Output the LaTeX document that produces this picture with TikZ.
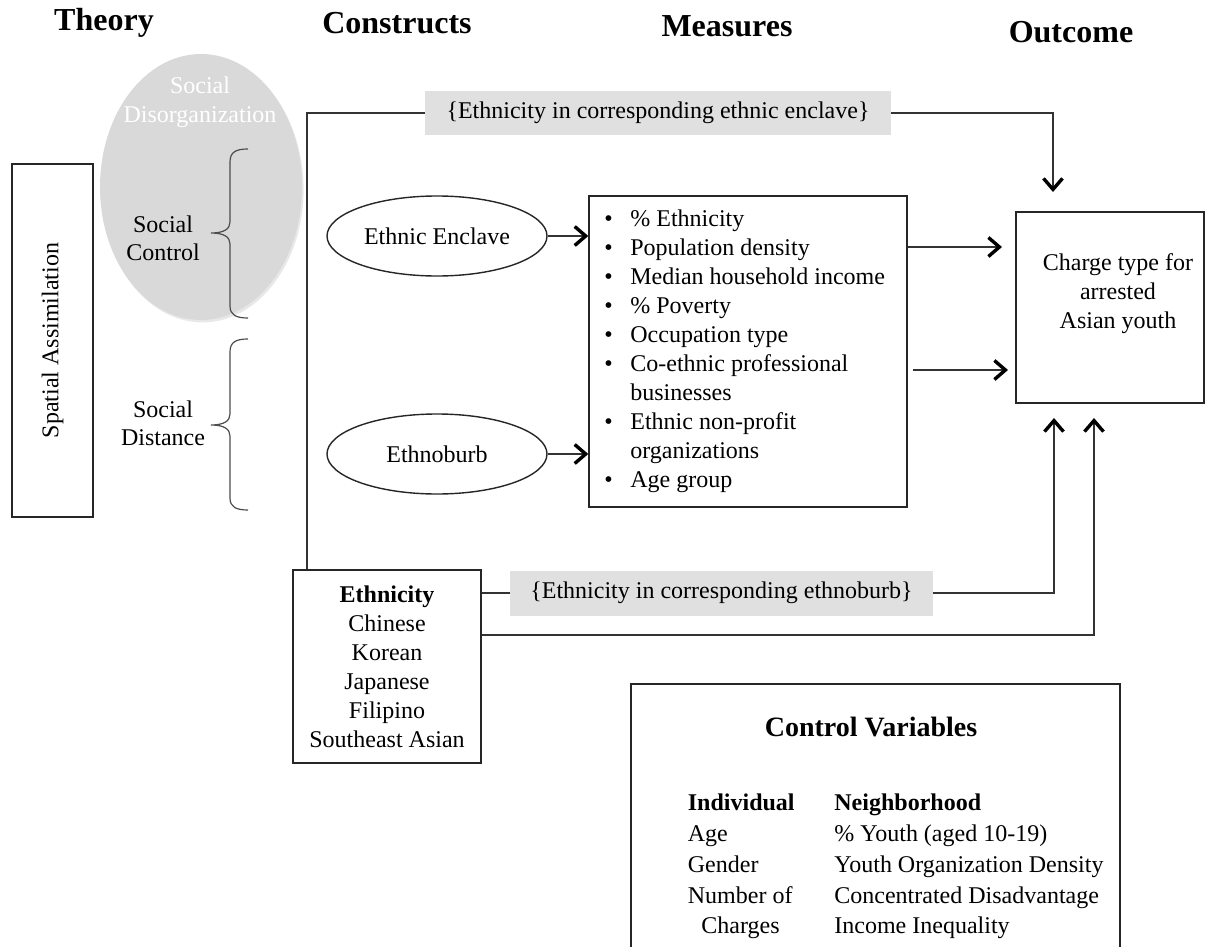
\documentclass[tikz,border=0pt]{standalone}
\usepackage{fontspec}
\setmainfont{Liberation Serif}
\usetikzlibrary{arrows.meta,shapes.geometric,shadows}
\begin{document}
\begin{tikzpicture}[x=0.5pt,y=-0.5pt,
  every node/.style={font=\fontsize{12}{14.5}\selectfont, inner sep=0pt},
  ln/.style={line width=0.7pt, draw=black!80},
  arr/.style={ln, -{Straight Barb[length=5.5pt,width=9.5pt,line width=1.7pt,color=black]}},
  hdr/.style={font=\fontsize{16}{19}\selectfont\bfseries},
  rbox/.style={draw=black!85, line width=0.7pt},
  oval/.style={ellipse, draw=black!85, line width=0.7pt, minimum width=110pt, minimum height=40pt},
  graybox/.style={fill=black!12, minimum height=22pt},
  brace/.style={line width=0.6pt, draw=black!70},
  row/.style={anchor=west, text height=8.5pt, text depth=2.5pt}
]
\useasboundingbox (0,0) rectangle (1205,947);
\clip (0,0) rectangle (1205,947);

% headers
\node[hdr] (hTheory) at (104,23) {Theory};
\node[hdr] (hConstructs) at (397,23) {Constructs};
\node[hdr] (hMeasures) at (727,26) {Measures};
\node[hdr] (hOutcome) at (1071,32) {Outcome};

% theory column
\node[rbox, rotate=90, minimum width=176.5pt, minimum height=40.5pt] (sa) at (52.5,340.5) {Spatial Assimilation};
\node[ellipse, fill=black!15, minimum width=101pt, minimum height=133pt,
      drop shadow={shadow xshift=0.8pt, shadow yshift=-1.2pt, opacity=0.18}] (sdis) at (201,187) {};
\node[align=center, text=white] (sdistxt) at (200,102.5) {Social\\Disorganization};
\node[align=center, font=\fontsize{12}{13.8}\selectfont] (sctrl) at (163,238.5) {Social\\Control};
\node[align=center, font=\fontsize{12}{13.8}\selectfont] (sdist) at (163,423) {Social\\Distance};

% braces
\draw[brace] (248,149) .. controls (236,149) and (230,152) .. (230,162) -- (230,222)
  .. controls (230,229) and (224,233) .. (211,233)
  .. controls (224,233) and (230,237) .. (230,244) -- (230,306)
  .. controls (230,315) and (236,318) .. (248,318);
\draw[brace] (248,339) .. controls (236,339) and (230,342) .. (230,352) -- (230,414)
  .. controls (230,421) and (224,425) .. (211,425)
  .. controls (224,425) and (230,429) .. (230,436) -- (230,498)
  .. controls (230,507) and (236,510) .. (248,510);

% constructs
\node[oval] (enc) at (437,236) {Ethnic Enclave};
\node[oval] (burb) at (437,454) {Ethnoburb};

% measures
\node[rbox, minimum width=159pt, minimum height=155.5pt] (meas) at (748,351.5) {};
\node[anchor=west, align=left] (meastxt) at (604,351) {%
\makebox[13pt][l]{\textbullet}\% Ethnicity\\
\makebox[13pt][l]{\textbullet}Population density\\
\makebox[13pt][l]{\textbullet}Median household income\\
\makebox[13pt][l]{\textbullet}\% Poverty\\
\makebox[13pt][l]{\textbullet}Occupation type\\
\makebox[13pt][l]{\textbullet}Co-ethnic professional\\
\hspace*{13pt}businesses\\
\makebox[13pt][l]{\textbullet}Ethnic non-profit\\
\hspace*{13pt}organizations\\
\makebox[13pt][l]{\textbullet}Age group};

% outcome
\node[rbox, minimum width=94pt, minimum height=95.5pt] (out) at (1110,307.5) {};
\node[align=center] (outtxt) at (1118,294) {Charge type for\\arrested\\Asian youth};

% ethnicity
\node[rbox, align=center, minimum width=94pt, minimum height=96.5pt] (eth) at (387,666.5)
  {\textbf{Ethnicity}\\Chinese\\Korean\\Japanese\\Filipino\\Southeast Asian};

% gray labels
\node[graybox, minimum width=233pt] (gb1) at (658,113) {\{Ethnicity in corresponding ethnic enclave\}};
\node[graybox, minimum width=211.5pt, minimum height=22.5pt] (gb2) at (721.5,593) {\{Ethnicity in corresponding ethnoburb\}};

% connectors
\draw[arr] (enc.east) -- (enc.east -| meas.west);
\draw[arr] (burb.east) -- (burb.east -| meas.west);
\coordinate (a1) at (1002,247);
\draw[arr] (meas.east |- a1) -- (a1);
\coordinate (b0) at (913,370);
\coordinate (b1) at (1008,370);
\draw[arr] (b0) -- (b1);

\coordinate (t0) at (307,113);
\coordinate (t1) at (1053,113);
\coordinate (t2) at (1053,192);
\draw[ln] (eth.north -| t0) -- (t0) -- (gb1.west);
\draw[arr] (gb1.east) -- (t1) -- (t2);

\coordinate (u1) at (1054,593);
\coordinate (u2) at (1054,418);
\draw[ln] (eth.east |- gb2.west) -- (gb2.west);
\draw[arr] (gb2.east) -- (u1) -- (u2);

\coordinate (v1) at (1094,635);
\coordinate (v2) at (1094,418);
\draw[arr] (eth.east |- v1) -- (v1) -- (v2);

% control variables
\node[rbox, minimum width=244.5pt, minimum height=150pt] (ctrl) at (875.5,834) {};
\node[font=\fontsize{14}{17}\selectfont\bfseries] (ctitle) at (871,727) {Control Variables};
\node[row, font=\fontsize{12}{14.5}\selectfont\bfseries] (cI0) at (687.5,804) {Individual};
\node[row] (cI1) at (687.5,835) {Age};
\node[row] (cI2) at (687.5,866) {Gender};
\node[row] (cI3) at (687.5,897) {Number of};
\node[row] (cI4) at (701,927) {Charges};
\node[row, font=\fontsize{12}{14.5}\selectfont\bfseries] (cN0) at (834,804) {Neighborhood};
\node[row] (cN1) at (834,835) {\% Youth (aged 10-19)};
\node[row] (cN2) at (834,866) {Youth Organization Density};
\node[row] (cN3) at (834,897) {Concentrated Disadvantage};
\node[row] (cN4) at (834,927) {Income Inequality};
\end{tikzpicture}
\end{document}
